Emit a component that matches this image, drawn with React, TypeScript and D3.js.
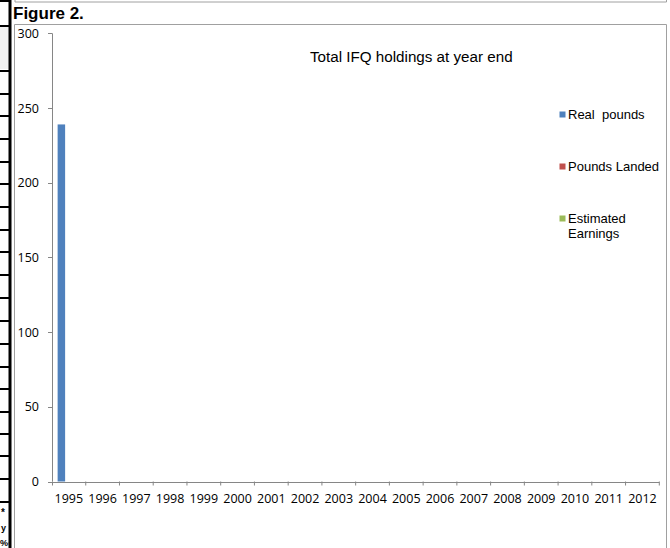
import React from "react";
import * as d3 from "d3";

const years = ["1995","1996","1997","1998","1999","2000","2001","2002","2003","2004","2005","2006","2007","2008","2009","2010","2011","2012"];
const seriesNames = ["Real  pounds", "Pounds Landed", "Estimated Earnings"];
const realPounds: (number | null)[] = [239, null, null, null, null, null, null, null, null, null, null, null, null, null, null, null, null, null];
const poundsLanded: (number | null)[] = [null, null, null, null, null, null, null, null, null, null, null, null, null, null, null, null, null, null];
const estimatedEarnings: (number | null)[] = [null, null, null, null, null, null, null, null, null, null, null, null, null, null, null, null, null, null];
const yTicks = [0, 50, 100, 150, 200, 250, 300];
const colors = ["#4f81bd", "#c0504d", "#9bbb59"];
const leftRuleYs = [0, 25, 70, 93, 115, 138, 161, 183, 206, 229, 251, 274, 297, 320, 343, 366, 388, 411, 433, 455, 478, 501];

export default function App() {
  const W = 670, H = 548;
  const x0 = 52, x1 = 659.3, yTop = 33.3, yBot = 481.5;
  const x = d3.scaleBand<string>().domain(years).range([x0, x1]).padding(0);
  const bw = x.bandwidth();
  const gw = bw / 1.5;
  const xs = d3.scaleBand<string>().domain(seriesNames).range([(bw - gw) / 2, (bw + gw) / 2]).padding(0);
  const y = d3.scaleLinear().domain([0, 300]).range([yBot, yTop]);
  const allSeries = [realPounds, poundsLanded, estimatedEarnings];
  const axisColor = "#868686";
  const tickFont = "'Open Sans', 'Liberation Sans', Arial, sans-serif";
  const arial = "'Liberation Sans', Arial, sans-serif";

  const legend = [
    { name: "Real  pounds", lines: ["Real  pounds"], sy: 111.5, by: 118.5 },
    { name: "Pounds Landed", lines: ["Pounds Landed"], sy: 163.5, by: 171 },
    { name: "Estimated Earnings", lines: ["Estimated", "Earnings"], sy: 215.5, by: 222.7 },
  ];

  return (
    <svg width={W} height={H} style={{ position: "absolute", left: 0, top: 0, background: "#fff" }}>
      <rect x={0} y={0} width={W} height={H} fill="#fff" />
      {/* left table fragment */}
      <rect x={0} y={26} width={9} height={43} fill="#f0f0f0" />
      {leftRuleYs.map((ly, i) => (
        <rect key={i} x={0} y={ly} width={10} height={2} fill="#000" />
      ))}
      <rect x={8.5} y={0} width={3} height={H} fill="#000" />
      <defs>
        <clipPath id="leftclip"><rect x={0} y={0} width={8.5} height={H} /></clipPath>
      </defs>
      <g clipPath="url(#leftclip)" fontFamily={arial} fontWeight="bold" fontSize={10} fill="#000">
        <text x={1} y={516}>*</text>
        <text x={1} y={531} fontSize={9}>y</text>
        <text x={0} y={546} fontSize={9}>%o</text>
      </g>
      {/* top box bottom border */}
      <path d={`M15,-1 V2 H666.5 V-1`} fill="none" stroke="#a0a0a0" strokeWidth={1} />
      <text x={13} y={18.5} fontFamily={arial} fontWeight="bold" fontSize={17} fill="#000">Figure 2.</text>
      {/* chart box */}
      <path d={`M14.5,${H + 2} V24.5 H666.5 V${H + 2}`} fill="none" stroke="#a0a0a0" strokeWidth={1} />
      {/* title */}
      <text x={310} y={62} fontFamily={arial} fontSize={15.2} fill="#000">Total IFQ holdings at year end</text>
      {/* bars */}
      {allSeries.map((vals, si) =>
        vals.map((v, i) =>
          v == null ? null : (
            <rect key={`${si}-${i}`} x={(x(years[i]) ?? 0) + (xs(seriesNames[si]) ?? 0)} y={y(v)} width={xs.bandwidth()} height={yBot - y(v)} fill={colors[si]} />
          )
        )
      )}
      {/* y axis */}
      <line x1={x0 + 0.5} x2={x0 + 0.5} y1={yTop} y2={yBot} stroke={axisColor} strokeWidth={1} />
      {yTicks.map((t) => (
        <g key={t}>
          <line x1={x0 - 4} x2={x0} y1={Math.round(y(t)) + 0.5} y2={Math.round(y(t)) + 0.5} stroke={axisColor} />
          <text x={39} y={y(t)} dy="0.36em" textAnchor="end" fontFamily={tickFont} fontSize={12.5} fill="#000">{t}</text>
        </g>
      ))}
      {/* x axis */}
      <line x1={x0} x2={x1} y1={Math.round(yBot) + 0.5} y2={Math.round(yBot) + 0.5} stroke={axisColor} strokeWidth={1} />
      {years.map((yr) => (
        <line key={"t" + yr} x1={(x(yr) ?? 0) + bw} x2={(x(yr) ?? 0) + bw} y1={yBot} y2={yBot + 4} stroke={axisColor} />
      ))}
      <line x1={x0 + 0.5} x2={x0 + 0.5} y1={yBot} y2={yBot + 4} stroke={axisColor} />
      {years.map((yr) => (
        <text key={yr} x={(x(yr) ?? 0) + bw / 2} y={503} textAnchor="middle" fontFamily={tickFont} fontSize={12.5} fill="#000">{yr}</text>
      ))}
      {/* legend */}
      {legend.map((l, i) => (
        <g key={l.name}>
          <rect x={559.5} y={l.sy} width={6} height={6} fill={colors[i]} />
          {l.lines.map((ln, j) => (
            <text key={j} x={568} y={l.by + j * 15} fontFamily={arial} fontSize={13} fill="#000" style={{ whiteSpace: "pre" }}>{ln}</text>
          ))}
        </g>
      ))}
    </svg>
  );
}
